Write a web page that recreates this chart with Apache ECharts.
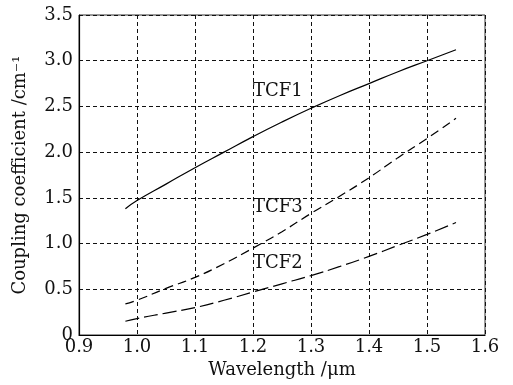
<!DOCTYPE html>
<html>
<head>
<meta charset="utf-8">
<script src="https://cdn.jsdelivr.net/npm/echarts@6/dist/echarts.min.js"></script>
<style>
html,body{margin:0;padding:0;background:#fff;}
#chart{width:513px;height:385px;}
</style>
</head>
<body>
<div id="chart"></div>
<script>
var wavelength = [0.98, 1.0, 1.05, 1.1, 1.15, 1.2, 1.25, 1.3, 1.35, 1.4, 1.45, 1.5, 1.55];
var tcf1 = [1.38, 1.47, 1.65, 1.83, 2.0, 2.17, 2.33, 2.48, 2.62, 2.75, 2.88, 3.0, 3.12];
var tcf3 = [0.34, 0.38, 0.51, 0.63, 0.78, 0.95, 1.13, 1.33, 1.52, 1.72, 1.94, 2.15, 2.37];
var tcf2 = [0.15, 0.18, 0.24, 0.30, 0.38, 0.47, 0.56, 0.65, 0.75, 0.86, 0.98, 1.10, 1.23];
var seriesNames = ['TCF1', 'TCF3', 'TCF2'];
var labelPos = [[1.243, 2.66], [1.243, 1.40], [1.243, 0.78]];

var FONT = 'DejaVu Serif';
var TXT = '#111';
var FS = 18;

function pairs(ys) { return wavelength.map(function (x, i) { return [x, ys[i]]; }); }

function mkSeries(name, ys, dash, lp) {
  return {
    name: name, type: 'line', data: pairs(ys), smooth: true, symbol: 'none',
    lineStyle: { color: '#000', width: 1.2, type: dash },
    markPoint: {
      symbol: 'circle', symbolSize: 0,
      data: [{ coord: lp, value: name }],
      label: { show: true, position: 'inside', formatter: name, color: TXT, fontFamily: FONT, fontSize: FS }
    },
    z: 3
  };
}

var chart = echarts.init(document.getElementById('chart'), null, { renderer: 'canvas' });
chart.setOption({
  animation: false,
  backgroundColor: '#fff',
  grid: { left: 79, top: 15, right: 28, bottom: 50, show: true, borderColor: '#333', borderWidth: 1 },
  xAxis: {
    type: 'value', min: 0.9, max: 1.6, interval: 0.1,
    name: 'Wavelength /μm', nameLocation: 'middle', nameGap: 24,
    nameTextStyle: { fontFamily: FONT, fontSize: FS, color: TXT },
    axisLine: { show: true, onZero: false, lineStyle: { color: '#000', width: 1.2 } },
    axisTick: { show: false },
    axisLabel: { fontFamily: FONT, fontSize: FS, color: TXT, margin: 3, formatter: function (v) { return v.toFixed(1); } },
    splitLine: { show: true, lineStyle: { color: '#111', width: 1, type: [4, 3] } }
  },
  yAxis: {
    type: 'value', min: 0, max: 3.5, interval: 0.5,
    name: 'Coupling coefficient /cm⁻¹', nameLocation: 'middle', nameGap: 50,
    nameTextStyle: { fontFamily: FONT, fontSize: FS, color: TXT },
    axisLine: { show: true, lineStyle: { color: '#000', width: 1.2 } },
    axisTick: { show: false },
    axisLabel: { fontFamily: FONT, fontSize: FS, color: TXT, margin: 6, formatter: function (v) { return v === 0 ? '0' : v.toFixed(1); } },
    splitLine: { show: true, lineStyle: { color: '#111', width: 1, type: [4, 3] } }
  },
  series: [
    mkSeries(seriesNames[0], tcf1, 'solid', labelPos[0]),
    mkSeries(seriesNames[1], tcf3, [9, 5], labelPos[1]),
    mkSeries(seriesNames[2], tcf2, [14, 5], labelPos[2])
  ]
});
</script>
</body>
</html>
